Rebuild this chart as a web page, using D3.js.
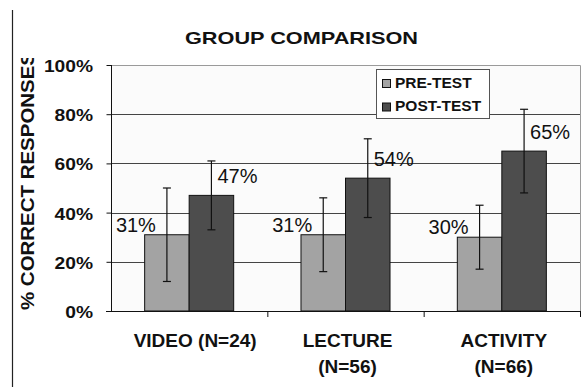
<!DOCTYPE html>
<html><head><meta charset="utf-8">
<script src="https://cdn.jsdelivr.net/npm/d3@7"></script>
<style>
html,body{margin:0;padding:0;background:#fff;}
svg{display:block;font-family:"Liberation Sans",Arial,sans-serif;}
</style></head>
<body>
<svg id="c" width="588" height="387"></svg>
<script>
const categories = [["VIDEO (N=24)"], ["LECTURE", "(N=56)"], ["ACTIVITY", "(N=66)"]];
const seriesNames = ["PRE-TEST", "POST-TEST"];
const preTest = [0.31, 0.31, 0.30];
const postTest = [0.47, 0.54, 0.65];
const preErr = [0.19, 0.15, 0.13];
const postErr = [0.14, 0.16, 0.17];
const yTicks = [0, 0.2, 0.4, 0.6, 0.8, 1.0];
const title = "GROUP COMPARISON";
const yTitle = "% CORRECT RESPONSES";

const colors = {pre: "#a3a3a3", post: "#4d4d4d"};
const svg = d3.select("#c");
const M = {l: 111, r: 580, t: 65, b: 311};

const catKeys = categories.map(c => c.join(" "));
const x = d3.scaleBand().domain(catKeys).range([M.l, M.r]).paddingInner(0).paddingOuter(0);
const x1 = d3.scaleBand().domain(["pre", "post"]).range([0, x.bandwidth()]).paddingInner(0).paddingOuter(0.756);
const y = d3.scaleLinear().domain([0, 1]).range([M.b, M.t]);

// frame line at left
svg.append("line").attr("x1", 12.5).attr("x2", 12.5).attr("y1", 10).attr("y2", 387).attr("stroke", "#222").attr("stroke-width", 1.2);

// plot background
svg.append("rect").attr("x", M.l).attr("y", M.t).attr("width", M.r - M.l).attr("height", M.b - M.t).attr("fill", "#fbfbfb");

// gridlines
svg.append("g").selectAll("line").data(yTicks.filter(t => t > 0 && t < 1)).join("line")
  .attr("x1", M.l).attr("x2", M.r).attr("y1", d => Math.round(y(d)) + 0.5).attr("y2", d => Math.round(y(d)) + 0.5)
  .attr("stroke", "#444").attr("stroke-width", 1);
// top & right border
svg.append("path").attr("d", `M${M.l},${M.t + 0.5}H${M.r + 0.5}V${M.b}`).attr("fill", "none").attr("stroke", "#9a9a9a").attr("stroke-width", 1);

// bars
const data = catKeys.map((k, i) => [
  {cat: k, s: "pre", v: preTest[i], e: preErr[i]},
  {cat: k, s: "post", v: postTest[i], e: postErr[i]}
]).flat();

svg.append("g").selectAll("rect").data(data).join("rect")
  .attr("x", d => x(d.cat) + x1(d.s))
  .attr("y", d => y(d.v))
  .attr("width", x1.bandwidth())
  .attr("height", d => y(0) - y(d.v))
  .attr("fill", d => colors[d.s])
  .attr("stroke", "#111").attr("stroke-width", 1);

// error bars
const eb = svg.append("g").attr("stroke", "#111").attr("stroke-width", 1.2);
data.forEach(d => {
  const cx = x(d.cat) + x1(d.s) + x1.bandwidth() / 2;
  const y1 = y(d.v + d.e), y2 = y(d.v - d.e);
  eb.append("line").attr("x1", cx).attr("x2", cx).attr("y1", y1).attr("y2", y2);
  eb.append("line").attr("x1", cx - 4).attr("x2", cx + 4).attr("y1", y1).attr("y2", y1);
  eb.append("line").attr("x1", cx - 4).attr("x2", cx + 4).attr("y1", y2).attr("y2", y2);
});

// data labels
svg.append("g").selectAll("text").data(data).join("text")
  .attr("x", d => x(d.cat) + x1(d.s) + x1.bandwidth() / 2 + (d.s === "pre" ? -11 : 6))
  .attr("y", d => y(d.v) - (d.s === "pre" ? 3 : 12))
  .attr("text-anchor", d => d.s === "pre" ? "end" : "start")
  .attr("font-size", 20).attr("fill", "#111")
  .text(d => d3.format(".0%")(d.v));

// axes lines
svg.append("line").attr("x1", M.l + 0.5).attr("x2", M.l + 0.5).attr("y1", M.t).attr("y2", M.b).attr("stroke", "#111");
svg.append("line").attr("x1", M.l - 5).attr("x2", M.r + 0.5).attr("y1", M.b + 0.5).attr("y2", M.b + 0.5).attr("stroke", "#111");

// y ticks
const yAxis = d3.axisLeft(y).tickValues(yTicks).tickSize(5).tickFormat(d3.format(".0%"));
const gy = svg.append("g").attr("transform", `translate(${M.l + 0.5},0)`).call(yAxis);
gy.select(".domain").remove();
gy.selectAll(".tick line").attr("stroke", "#111");
gy.selectAll(".tick text").attr("x", -18.5).attr("dy", "0.4em")
  .attr("font-family", "Liberation Sans, Arial, sans-serif")
  .attr("font-size", 16).attr("font-weight", "bold").attr("fill", "#111")
  .each(function () { const w = this.getComputedTextLength(); d3.select(this).attr("textLength", w * 1.2).attr("lengthAdjust", "spacingAndGlyphs"); });

// x ticks at boundaries
const bounds = catKeys.map(k => x(k)).concat([M.r]);
svg.append("g").selectAll("line").data(bounds.slice(1)).join("line")
  .attr("x1", d => d + 0.5).attr("x2", d => d + 0.5).attr("y1", M.b).attr("y2", M.b + 6).attr("stroke", "#111");

// category labels
categories.forEach((lines, i) => {
  const cx = x(catKeys[i]) + x.bandwidth() / 2 + (lines.length === 1 ? 6 : 2);
  const t = svg.append("text").attr("text-anchor", "middle").attr("font-size", 19).attr("font-weight", "bold").attr("fill", "#111");
  lines.forEach((ln, j) => {
    t.append("tspan").attr("x", cx).attr("y", 347 + j * 26).text(ln);
  });
});

// title
svg.append("text").attr("x", 301.5).attr("y", 44).attr("text-anchor", "middle")
  .attr("font-size", 17).attr("font-weight", "bold").attr("fill", "#111")
  .attr("textLength", 233).attr("lengthAdjust", "spacingAndGlyphs").text(title);

// y title (clipped at top)
svg.append("clipPath").attr("id", "yclip").append("rect").attr("x", 0).attr("y", 58).attr("width", 100).attr("height", 330);
svg.append("g").attr("clip-path", "url(#yclip)")
  .append("text").attr("transform", "translate(33.5,310) rotate(-90)")
  .attr("font-size", 17.5).attr("font-weight", "bold").attr("fill", "#111")
  .attr("textLength", 258).attr("lengthAdjust", "spacingAndGlyphs").text(yTitle);

// legend
const lg = svg.append("g");
lg.append("rect").attr("x", 376.5).attr("y", 69.5).attr("width", 113).attr("height", 49).attr("fill", "#fff").attr("stroke", "#555");
seriesNames.forEach((n, i) => {
  const yy = 87.5 + i * 23.5;
  lg.append("rect").attr("x", 382.5).attr("y", yy - 8).attr("width", 8).attr("height", 8)
    .attr("fill", i === 0 ? colors.pre : colors.post).attr("stroke", "#111");
  lg.append("text").attr("x", 395).attr("y", yy).attr("font-size", 15.5).attr("font-weight", "bold").attr("fill", "#111").text(n);
});
</script>
</body></html>
